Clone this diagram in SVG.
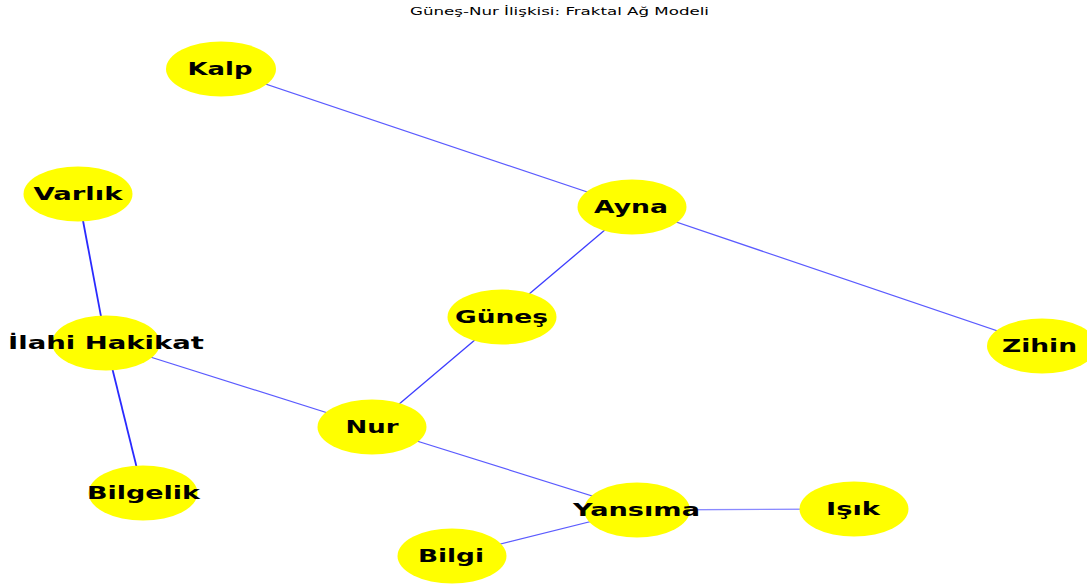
<svg xmlns="http://www.w3.org/2000/svg" width="1087" height="584" viewBox="0 0 1087 584">
<style>
.node ellipse{fill:#ffff00;stroke:none}
.node text{font-family:"DejaVu Sans",sans-serif;font-weight:bold;font-size:17px;fill:#000;text-anchor:middle}
.e{stroke:#5b5bff;stroke-width:1.2;fill:none}
.e2{stroke:#2a2aff;stroke-width:1.8}
.e3{stroke:#3c3cff;stroke-width:1.3}
.e4{stroke:#8a8aff;stroke-width:1.3}
.title{font-family:"DejaVu Sans",sans-serif;font-size:10.5px;fill:#000;text-anchor:middle}
</style>
<rect width="1087" height="584" fill="#fff"/>
<text class="title" x="559.5" y="15" textLength="299" lengthAdjust="spacingAndGlyphs">Güneş-Nur İlişkisi: Fraktal Ağ Modeli</text>
<g id="edges">
<line class="e" x1="221" y1="69" x2="632" y2="207"/>
<line class="e e3" x1="632" y1="207" x2="502" y2="317"/>
<line class="e" x1="632" y1="207" x2="1042" y2="346"/>
<line class="e e3" x1="502" y1="317" x2="372" y2="427"/>
<line class="e e2" x1="78" y1="194" x2="106" y2="343"/>
<line class="e e2" x1="106" y1="343" x2="143" y2="493"/>
<line class="e" x1="106" y1="343" x2="372" y2="427"/>
<line class="e" x1="372" y1="427" x2="637" y2="510"/>
<line class="e e4" x1="637" y1="510" x2="854" y2="509"/>
<line class="e" x1="637" y1="510" x2="452" y2="556"/>
</g>
<g id="n-kalp" class="node"><ellipse cx="221" cy="69" rx="55" ry="27.5"/><text x="220" y="75" textLength="65" lengthAdjust="spacingAndGlyphs">Kalp</text></g>
<g id="n-ayna" class="node"><ellipse cx="632" cy="207" rx="54.5" ry="27.5"/><text x="631" y="213" textLength="74" lengthAdjust="spacingAndGlyphs">Ayna</text></g>
<g id="n-varlik" class="node"><ellipse cx="78" cy="194" rx="54.5" ry="27.5"/><text x="78" y="200" textLength="89" lengthAdjust="spacingAndGlyphs">Varlık</text></g>
<g id="n-gunes" class="node"><ellipse cx="502" cy="317" rx="54.5" ry="27.5"/><text x="501.5" y="323" textLength="93" lengthAdjust="spacingAndGlyphs">Güneş</text></g>
<g id="n-ilahi" class="node"><ellipse cx="106" cy="343" rx="54" ry="27.5"/><text x="106" y="349" textLength="196" lengthAdjust="spacingAndGlyphs">İlahi Hakikat</text></g>
<g id="n-zihin" class="node"><ellipse cx="1042" cy="346" rx="55" ry="27.5"/><text x="1039.5" y="352" textLength="75" lengthAdjust="spacingAndGlyphs">Zihin</text></g>
<g id="n-nur" class="node"><ellipse cx="372" cy="427" rx="54.5" ry="27.5"/><text x="372" y="433" textLength="53" lengthAdjust="spacingAndGlyphs">Nur</text></g>
<g id="n-bilgelik" class="node"><ellipse cx="143" cy="493" rx="54.5" ry="27.5"/><text x="143.5" y="499" textLength="113" lengthAdjust="spacingAndGlyphs">Bilgelik</text></g>
<g id="n-yansima" class="node"><ellipse cx="637" cy="510" rx="53" ry="27.5"/><text x="636.5" y="516" textLength="127" lengthAdjust="spacingAndGlyphs">Yansıma</text></g>
<g id="n-isik" class="node"><ellipse cx="854" cy="509" rx="54.5" ry="27.5"/><text x="853" y="515" textLength="54" lengthAdjust="spacingAndGlyphs">Işık</text></g>
<g id="n-bilgi" class="node"><ellipse cx="452" cy="556" rx="54.5" ry="27.5"/><text x="451" y="562" textLength="66" lengthAdjust="spacingAndGlyphs">Bilgi</text></g>
</svg>
